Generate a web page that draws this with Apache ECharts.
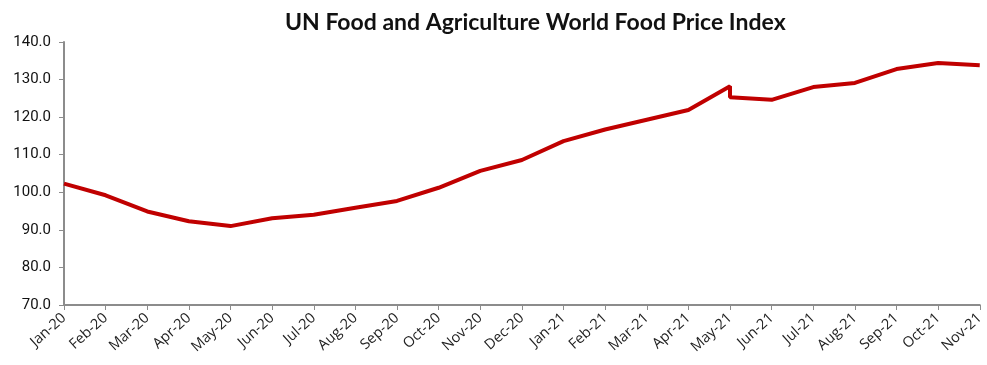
<!DOCTYPE html>
<html>
<head>
<meta charset="utf-8">
<script src="https://cdn.jsdelivr.net/npm/echarts@6/dist/echarts.min.js"></script>
<style>html,body{margin:0;padding:0;background:#fff}#c{width:987px;height:365px}</style>
</head>
<body>
<div id="c"></div>
<script>
const categories = ["Jan-20","Feb-20","Mar-20","Apr-20","May-20","Jun-20","Jul-20","Aug-20","Sep-20","Oct-20","Nov-20","Dec-20","Jan-21","Feb-21","Mar-21","Apr-21","May-21","Jun-21","Jul-21","Aug-21","Sep-21","Oct-21","Nov-21"];
// category of each point (May-21 appears twice: reported then revised value)
const pointCategory = ["Jan-20","Feb-20","Mar-20","Apr-20","May-20","Jun-20","Jul-20","Aug-20","Sep-20","Oct-20","Nov-20","Dec-20","Jan-21","Feb-21","Mar-21","Apr-21","May-21","May-21","Jun-21","Jul-21","Aug-21","Sep-21","Oct-21","Nov-21"];
const priceIndex = [102.3,99.2,94.9,92.3,91.0,93.1,94.0,95.9,97.7,101.2,105.7,108.6,113.6,116.7,119.3,121.9,128.2,125.3,124.6,128.0,129.1,132.8,134.4,133.8];
const yTicks = {min:70, max:140, interval:10};

const data = pointCategory.map((c,i)=>[categories.indexOf(c), priceIndex[i]]);
const chart = echarts.init(document.getElementById('c'));
chart.setOption({
  animation:false,
  title:{text:'UN Food and Agriculture World Food Price Index',left:280,top:6,
    textStyle:{fontFamily:'Lato',fontWeight:'bold',fontSize:23,color:'#111'}},
  grid:{left:64,right:2,top:42,bottom:60},
  xAxis:{type:'value',min:0,max:categories.length-1,interval:1,
    axisLine:{lineStyle:{color:'#8c8c8c',width:2}},
    axisTick:{show:true,length:5,lineStyle:{color:'#8c8c8c'}},
    splitLine:{show:false},
    axisLabel:{rotate:42,fontFamily:'Open Sans',fontSize:14.5,color:'#222',margin:11,
      formatter:v=>categories[v]||''}},
  yAxis:{type:'value',min:yTicks.min,max:yTicks.max,interval:yTicks.interval,
    axisLine:{show:true,lineStyle:{color:'#8c8c8c',width:2}},
    axisTick:{show:true,length:5,lineStyle:{color:'#8c8c8c'}},
    splitLine:{show:false},
    axisLabel:{fontFamily:'Roboto',fontSize:15,color:'#111',margin:13,formatter:v=>v.toFixed(1)}},
  series:[{type:'line',data:data,symbol:'none',lineStyle:{color:'#C00000',width:4},z:3}]
});
</script>
</body>
</html>
